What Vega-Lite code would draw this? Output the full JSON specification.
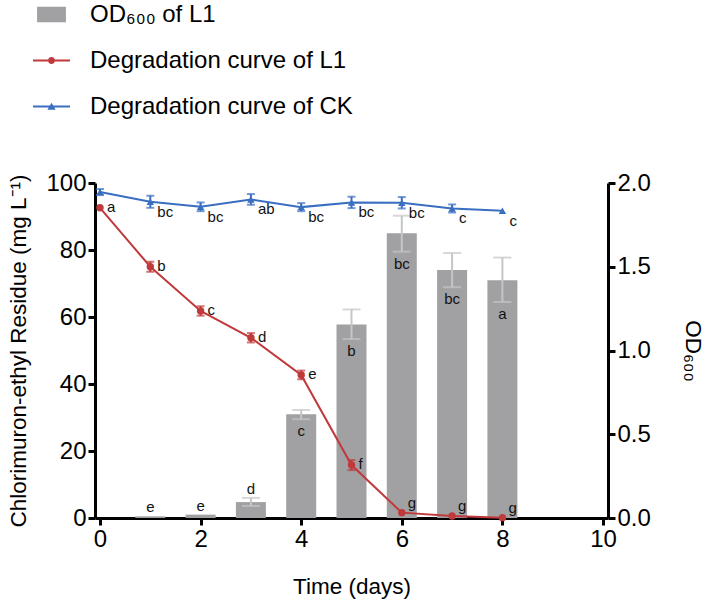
{
  "$schema": "https://vega.github.io/schema/vega-lite/v6.json",
  "width": 513,
  "height": 335,
  "autosize": "none",
  "padding": {"left": 95, "top": 183, "right": 100, "bottom": 84},
  "config": {
    "font": "Liberation Sans",
    "view": {"stroke": null},
    "axis": {
      "domainColor": "#000",
      "domainWidth": 3,
      "tickColor": "#000",
      "tickWidth": 3,
      "tickSize": 7,
      "labelFontSize": 24,
      "labelColor": "#000",
      "labelPadding": 2,
      "titleFontSize": 22.5,
      "titleFontWeight": "normal",
      "titleColor": "#000",
      "grid": false
    },
    "legend": {
      "orient": "none",
      "legendX": -62,
      "legendY": -187,
      "padding": 0,
      "symbolSize": 1369,
      "symbolStrokeWidth": 0,
      "labelFontSize": 24,
      "labelColor": "#000",
      "labelOffset": 20,
      "rowPadding": 15,
      "labelLimit": 400
    }
  },
  "datasets": {
    "od": [
      {"day": 1, "od": 0.01, "lo": 0.01, "hi": 0.01, "label": "e", "series": "OD₆₀₀ of L1"},
      {"day": 2, "od": 0.02, "lo": 0.02, "hi": 0.02, "label": "e", "series": "OD₆₀₀ of L1"},
      {"day": 3, "od": 0.095, "lo": 0.072, "hi": 0.12, "label": "d", "series": "OD₆₀₀ of L1"},
      {"day": 4, "od": 0.62, "lo": 0.59, "hi": 0.645, "label": "c", "series": "OD₆₀₀ of L1"},
      {"day": 5, "od": 1.155, "lo": 1.068, "hi": 1.245, "label": "b", "series": "OD₆₀₀ of L1"},
      {"day": 6, "od": 1.7, "lo": 1.59, "hi": 1.805, "label": "bc", "series": "OD₆₀₀ of L1"},
      {"day": 7, "od": 1.48, "lo": 1.378, "hi": 1.582, "label": "bc", "series": "OD₆₀₀ of L1"},
      {"day": 8, "od": 1.42, "lo": 1.29, "hi": 1.555, "label": "a", "series": "OD₆₀₀ of L1"}
    ],
    "res": [
      {"day": 0, "series": "Degradation curve of L1", "res": 92.6, "lo": 92.6, "hi": 92.6, "label": "a"},
      {"day": 1, "series": "Degradation curve of L1", "res": 75.0, "lo": 73.5, "hi": 76.5, "label": "b"},
      {"day": 2, "series": "Degradation curve of L1", "res": 61.8, "lo": 60.4, "hi": 63.2, "label": "c"},
      {"day": 3, "series": "Degradation curve of L1", "res": 53.8, "lo": 52.4, "hi": 55.2, "label": "d"},
      {"day": 4, "series": "Degradation curve of L1", "res": 42.7, "lo": 41.4, "hi": 44.0, "label": "e"},
      {"day": 5, "series": "Degradation curve of L1", "res": 15.8, "lo": 14.3, "hi": 17.3, "label": "f"},
      {"day": 6, "series": "Degradation curve of L1", "res": 1.6, "lo": 1.6, "hi": 1.6, "label": "g"},
      {"day": 7, "series": "Degradation curve of L1", "res": 0.6, "lo": 0.6, "hi": 0.6, "label": "g"},
      {"day": 8, "series": "Degradation curve of L1", "res": 0.1, "lo": 0.1, "hi": 0.1, "label": "g"},
      {"day": 0, "series": "Degradation curve of CK", "res": 97.3, "lo": 96.4, "hi": 98.2, "label": ""},
      {"day": 1, "series": "Degradation curve of CK", "res": 94.4, "lo": 92.6, "hi": 96.2, "label": "bc"},
      {"day": 2, "series": "Degradation curve of CK", "res": 92.9, "lo": 91.6, "hi": 94.2, "label": "bc"},
      {"day": 3, "series": "Degradation curve of CK", "res": 95.1, "lo": 93.5, "hi": 96.7, "label": "ab"},
      {"day": 4, "series": "Degradation curve of CK", "res": 92.8, "lo": 91.6, "hi": 94.0, "label": "bc"},
      {"day": 5, "series": "Degradation curve of CK", "res": 94.2, "lo": 92.5, "hi": 95.9, "label": "bc"},
      {"day": 6, "series": "Degradation curve of CK", "res": 94.1, "lo": 92.4, "hi": 95.8, "label": "bc"},
      {"day": 7, "series": "Degradation curve of CK", "res": 92.4, "lo": 91.2, "hi": 93.6, "label": "c"},
      {"day": 8, "series": "Degradation curve of CK", "res": 91.7, "lo": 91.7, "hi": 91.7, "label": "c"}
    ]
  },
  "encoding": {
    "x": {
      "field": "day",
      "type": "quantitative",
      "title": "Time (days)",
      "scale": {"domain": [0, 10], "nice": false},
      "axis": {"values": [0, 2, 4, 6, 8, 10], "titlePadding": 24}
    }
  },
  "layer": [
    {
      "data": {"name": "od"},
      "layer": [
        {
          "mark": {"type": "bar", "width": 30, "color": "#a1a1a3"},
          "encoding": {
            "y": {
              "field": "od",
              "type": "quantitative",
              "title": "OD₆₀₀",
              "scale": {"domain": [0, 2], "nice": false},
              "axis": {"orient": "right", "values": [0, 0.5, 1, 1.5, 2], "format": ".1f", "titlePadding": 30, "titleAngle": 90}
            },
            "color": {
              "field": "series",
              "type": "nominal",
              "scale": {
                "domain": ["OD₆₀₀ of L1", "Degradation curve of L1", "Degradation curve of CK"],
                "range": ["#a1a1a3", "#c0393b", "#3a6ec0"]
              },
              "legend": {
                "title": null,
                "encode": {
                  "symbols": {
                    "update": {
                      "shape": {"signal": "datum.value === 'Degradation curve of CK' ? 'M-1,-0.055H1V0.055H-1Z M0,-0.2L0.22,0.17L-0.22,0.17Z' : datum.value === 'Degradation curve of L1' ? 'M-1,-0.055H1V0.055H-1Z M-0.19,0A0.19,0.19 0 1,1 0.19,0A0.19,0.19 0 1,1 -0.19,0Z' : 'M-0.78,-0.42H0.78V0.42H-0.78Z'"}
                    }
                  }
                }
              }
            }
          }
        },
        {
          "transform": [{"filter": "datum.hi > datum.lo"}],
          "mark": {"type": "errorbar", "ticks": true, "size": 18, "thickness": 2, "color": "#c6c6c8"},
          "encoding": {
            "y": {"field": "lo", "type": "quantitative", "title": "OD₆₀₀"},
            "y2": {"field": "hi"}
          }
        },
        {
          "transform": [{"filter": "datum.day <= 3"}],
          "mark": {"type": "text", "fontSize": 15, "dy": -9, "baseline": "middle", "color": "#111"},
          "encoding": {
            "y": {"field": "hi", "type": "quantitative", "title": "OD₆₀₀"},
            "text": {"field": "label"}
          }
        },
        {
          "transform": [{"filter": "datum.day >= 4"}],
          "mark": {"type": "text", "fontSize": 15, "dy": 12, "baseline": "middle", "color": "#111"},
          "encoding": {
            "y": {"field": "lo", "type": "quantitative", "title": "OD₆₀₀"},
            "text": {"field": "label"}
          }
        }
      ]
    },
    {
      "data": {"name": "res"},
      "layer": [
        {
          "mark": {"type": "line", "strokeWidth": 2},
          "encoding": {
            "y": {
              "field": "res",
              "type": "quantitative",
              "title": "Chlorimuron-ethyl Residue (mg L⁻¹)",
              "scale": {"domain": [0, 100], "nice": false},
              "axis": {"orient": "left", "values": [0, 20, 40, 60, 80, 100], "titlePadding": 15}
            },
            "color": {
              "field": "series",
              "type": "nominal",
              "scale": {
                "domain": ["OD₆₀₀ of L1", "Degradation curve of L1", "Degradation curve of CK"],
                "range": ["#a1a1a3", "#c0393b", "#3a6ec0"]
              },
              "legend": null
            }
          }
        },
        {
          "transform": [{"filter": "datum.hi > datum.lo"}],
          "mark": {"type": "errorbar", "ticks": true, "size": 8, "thickness": 2},
          "encoding": {
            "y": {"field": "lo", "type": "quantitative", "title": "Chlorimuron-ethyl Residue (mg L⁻¹)"},
            "y2": {"field": "hi"},
            "color": {
              "field": "series",
              "type": "nominal",
              "scale": {
                "domain": ["OD₆₀₀ of L1", "Degradation curve of L1", "Degradation curve of CK"],
                "range": ["#a1a1a3", "#c0393b", "#3a6ec0"]
              },
              "legend": null
            }
          }
        },
        {
          "mark": {"type": "point", "filled": true, "opacity": 1, "size": 55},
          "encoding": {
            "y": {"field": "res", "type": "quantitative", "title": "Chlorimuron-ethyl Residue (mg L⁻¹)"},
            "color": {
              "field": "series",
              "type": "nominal",
              "scale": {
                "domain": ["OD₆₀₀ of L1", "Degradation curve of L1", "Degradation curve of CK"],
                "range": ["#a1a1a3", "#c0393b", "#3a6ec0"]
              },
              "legend": null
            },
            "shape": {
              "field": "series",
              "type": "nominal",
              "scale": {
                "domain": ["Degradation curve of L1", "Degradation curve of CK"],
                "range": ["circle", "triangle-up"]
              },
              "legend": null
            }
          }
        },
        {
          "transform": [{"filter": "datum.series === 'Degradation curve of L1' && datum.day <= 5"}],
          "mark": {"type": "text", "fontSize": 15, "align": "left", "dx": 7, "dy": -1, "baseline": "middle", "color": "#111"},
          "encoding": {
            "y": {"field": "res", "type": "quantitative", "title": "Chlorimuron-ethyl Residue (mg L⁻¹)"},
            "text": {"field": "label"}
          }
        },
        {
          "transform": [{"filter": "datum.series === 'Degradation curve of L1' && datum.day >= 6"}],
          "mark": {"type": "text", "fontSize": 15, "align": "left", "dx": 6, "dy": -10, "baseline": "middle", "color": "#111"},
          "encoding": {
            "y": {"field": "res", "type": "quantitative", "title": "Chlorimuron-ethyl Residue (mg L⁻¹)"},
            "text": {"field": "label"}
          }
        },
        {
          "transform": [{"filter": "datum.series === 'Degradation curve of CK'"}],
          "mark": {"type": "text", "fontSize": 15, "align": "left", "dx": 7, "dy": 10, "baseline": "middle", "color": "#111"},
          "encoding": {
            "y": {"field": "res", "type": "quantitative", "title": "Chlorimuron-ethyl Residue (mg L⁻¹)"},
            "text": {"field": "label"}
          }
        }
      ]
    }
  ],
  "resolve": {"scale": {"y": "independent"}}
}
